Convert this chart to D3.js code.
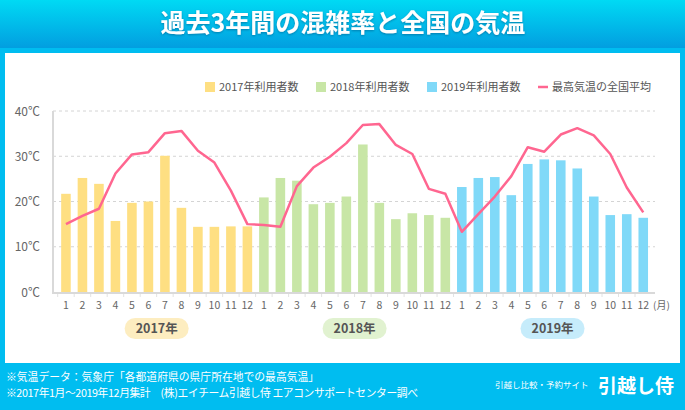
<!DOCTYPE html>
<html><head><meta charset="utf-8">
<script src="https://cdn.jsdelivr.net/npm/d3@7"></script>
<style>
html,body{margin:0;padding:0;background:#00bdf0;}
svg{display:block;font-family:"Noto Sans CJK JP","Noto Sans",sans-serif;}
</style></head>
<body>
<svg id="c" width="685" height="410"></svg>
<script>
const years = ["2017年", "2018年", "2019年"];
const months = ["1","2","3","4","5","6","7","8","9","10","11","12"];
const users2017 = [21.7, 25.2, 23.9, 15.7, 19.7, 20.0, 30.1, 18.6, 14.4, 14.4, 14.5, 14.5];
const users2018 = [20.9, 25.2, 24.6, 19.4, 19.7, 21.1, 32.6, 19.7, 16.1, 17.4, 17.0, 16.4];
const users2019 = [23.2, 25.2, 25.4, 21.4, 28.3, 29.3, 29.1, 27.3, 21.1, 17.0, 17.2, 16.4];
const temp2017 = [15.0, 16.8, 18.4, 26.2, 30.4, 30.9, 35.1, 35.6, 31.2, 28.6, 22.4, 15.0];
const temp2018 = [14.8, 14.4, 23.4, 27.5, 29.9, 32.9, 36.9, 37.1, 32.5, 30.5, 22.8, 21.7];
const temp2019 = [13.3, 17.2, 21.1, 25.6, 32.0, 31.0, 34.8, 36.2, 34.6, 30.5, 23.1, 17.6];
const yTicks = [0, 10, 20, 30, 40];
const legendLabels = ["2017年利用者数", "2018年利用者数", "2019年利用者数", "最高気温の全国平均"];
const title = "過去3年間の混雑率と全国の気温";
const notes = ["※気温データ：気象庁「各都道府県の県庁所在地での最高気温」",
               "※2017年1月～2019年12月集計　(株)エイチーム引越し侍 エアコンサポートセンター調べ"];

const barColors = ["#fedf82", "#c8e6a6", "#80d9f8"];
const pillColors = ["#fdedc0", "#e1f2d0", "#c6ecfb"];
const lineColor = "#ff6690";

const svg = d3.select("#c");
const defs = svg.append("defs");
const g1 = defs.append("linearGradient").attr("id","hdr").attr("x1",0).attr("y1",0).attr("x2",0).attr("y2",1);
g1.append("stop").attr("offset","0%").attr("stop-color","#00daf4");
g1.append("stop").attr("offset","100%").attr("stop-color","#029ee0");
const sh = defs.append("filter").attr("id","sh").attr("x","-10%").attr("y","-30%").attr("width","120%").attr("height","160%");
sh.append("feDropShadow").attr("dx",0).attr("dy",1).attr("stdDeviation",1.2).attr("flood-color","#005a8a").attr("flood-opacity",0.6);

// background
svg.append("rect").attr("width",685).attr("height",410).attr("fill","#00bdf0");
svg.append("rect").attr("width",685).attr("height",48).attr("fill","url(#hdr)");
svg.append("rect").attr("x",5).attr("y",53).attr("width",675).attr("height",310).attr("fill","#fff");

svg.append("text").attr("x",343).attr("y",31.5).attr("text-anchor","middle")
  .attr("font-size",25).attr("font-weight","bold").attr("fill","#fff").attr("filter","url(#sh)").text(title);

// data rows
const allUsers = [users2017, users2018, users2019];
const allTemps = [temp2017, temp2018, temp2019];
const rows = [];
years.forEach((y, yi) => months.forEach((m, mi) => rows.push({key: yi + "-" + m, yi, m, users: allUsers[yi][mi], temp: allTemps[yi][mi]})));

const x = d3.scaleBand().domain(rows.map(d => d.key)).range([57.7, 651.5]).paddingInner(0.42).paddingOuter(0.21);
const y = d3.scaleLinear().domain([0, 40]).range([292, 111]);

// grid
svg.append("g").selectAll("line").data(yTicks.filter(t => t > 0)).join("line")
  .attr("x1",53).attr("x2",655).attr("y1",d=>y(d)).attr("y2",d=>y(d))
  .attr("stroke","#d4d4d4").attr("stroke-width",1).attr("stroke-dasharray","3,3");

// y labels
svg.append("g").selectAll("text").data(yTicks).join("text")
  .attr("x",40).attr("y",d=>y(d)+4.5).attr("text-anchor","end")
  .attr("font-size",12).attr("fill","#666").text(d => d + "℃");

// bars
svg.append("g").selectAll("rect").data(rows).join("rect")
  .attr("x",d=>x(d.key)).attr("width",x.bandwidth())
  .attr("y",d=>y(d.users)).attr("height",d=>y(0)-y(d.users))
  .attr("fill",d=>barColors[d.yi]);

// axes lines
svg.append("line").attr("x1",53).attr("x2",53).attr("y1",111).attr("y2",293).attr("stroke","#d9d9d9").attr("stroke-width",2);
svg.append("line").attr("x1",52).attr("x2",655).attr("y1",293).attr("y2",293).attr("stroke","#d9d9d9").attr("stroke-width",2);
const step = x.step();
svg.append("g").selectAll("line").data(rows).join("line")
  .attr("x1",d=>x(d.key)+x.bandwidth()/2-step/2).attr("x2",d=>x(d.key)+x.bandwidth()/2-step/2)
  .attr("y1",294).attr("y2",297).attr("stroke","#e2e2e2");

// temp line
const line = d3.line().x(d=>x(d.key)+x.bandwidth()/2).y(d=>y(d.temp));
svg.append("path").datum(rows).attr("d",line).attr("fill","none")
  .attr("stroke",lineColor).attr("stroke-width",2.5).attr("stroke-linejoin","round");

// month labels
svg.append("g").selectAll("text").data(rows).join("text")
  .attr("x",d=>x(d.key)+x.bandwidth()/2).attr("y",309).attr("text-anchor","middle")
  .attr("font-size",10.5).attr("fill","#666").text(d=>d.m);
svg.append("text").attr("x",653).attr("y",309).attr("font-size",10).attr("fill","#666").text("(月)");

// year pills
years.forEach((yr, yi) => {
  const a = x(yi + "-1"), b = x(yi + "-12") + x.bandwidth();
  const cx = (a + b) / 2;
  svg.append("rect").attr("x",cx-32).attr("y",318).attr("width",64).attr("height",21).attr("rx",10.5)
    .attr("fill",pillColors[yi]);
  svg.append("text").attr("x",cx).attr("y",333).attr("text-anchor","middle")
    .attr("font-size",12.5).attr("font-weight","bold").attr("fill","#555").text(yr);
});

// legend
const lgX = [205, 316, 427, 538];
const lg = svg.append("g");
legendLabels.forEach((lab, i) => {
  if (i < 3) {
    lg.append("rect").attr("x",lgX[i]).attr("y",82).attr("width",10).attr("height",10).attr("fill",barColors[i]);
  } else {
    lg.append("line").attr("x1",lgX[i]).attr("x2",lgX[i]+10).attr("y1",87).attr("y2",87).attr("stroke",lineColor).attr("stroke-width",2.5);
  }
  lg.append("text").attr("x",lgX[i]+14).attr("y",91).attr("font-size",11).attr("fill","#555").text(lab);
});

// footer
svg.append("g").selectAll("text").data(notes).join("text")
  .attr("x",6).attr("y",(d,i)=>381+i*16).attr("font-size",10.8).attr("fill","#fff")
  .attr("textLength",(d,i)=> i === 1 ? 412 : null).attr("lengthAdjust","spacing").text(d=>d);
svg.append("text").attr("x",495).attr("y",388).attr("font-size",8.5).attr("fill","#fff").text("引越し比較・予約サイト");
svg.append("text").attr("x",598).attr("y",393).attr("font-size",19).attr("font-weight","bold").attr("fill","#fff").text("引越し侍");
</script>
</body></html>
